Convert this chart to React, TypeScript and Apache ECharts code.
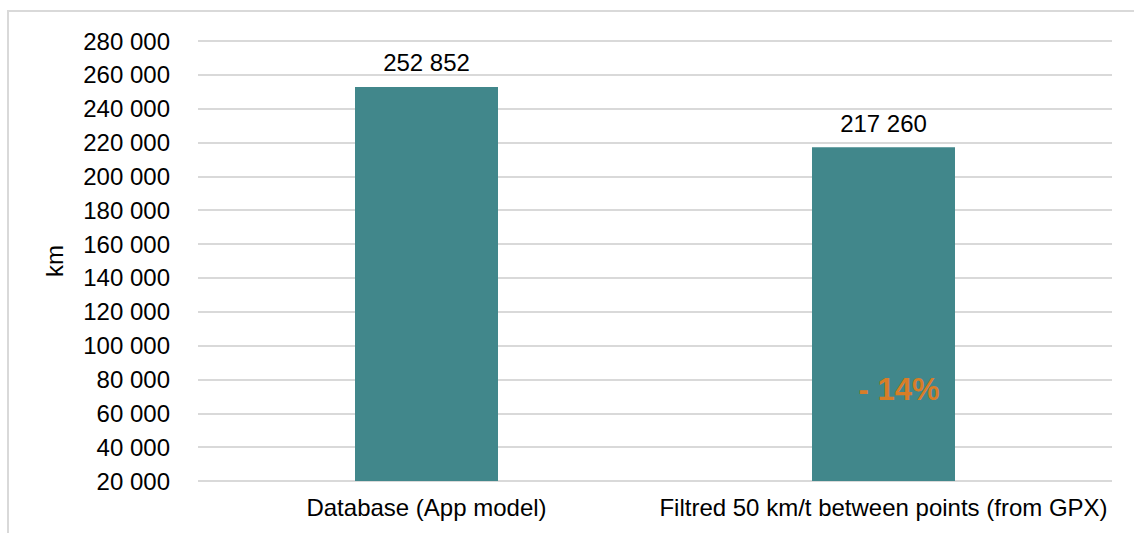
import React, { useEffect, useRef } from "react";
import * as echarts from "echarts";

const categories = ["Database (App model)", "Filtred 50 km/t between points (from GPX)"];
const distanceKm = [252852, 217260];
const yMin = 20000;
const yMax = 280000;
const yStep = 20000;

const fmt = (v: number) => String(Math.round(v)).replace(/\B(?=(\d{3})+(?!\d))/g, " ");

const change = (distanceKm[1] - distanceKm[0]) / distanceKm[0];
const changeText = `${change < 0 ? "- " : "+ "}${Math.round(Math.abs(change) * 100)}%`;

const FONT = "'Liberation Sans', Arial, sans-serif";

export default function App() {
  const ref = useRef<HTMLDivElement>(null);

  useEffect(() => {
    if (!ref.current) return;
    const chart = echarts.init(ref.current, undefined, { renderer: "svg" });
    chart.setOption({
      animation: false,
      backgroundColor: "#ffffff",
      textStyle: { fontFamily: FONT },
      grid: { left: 198, right: 22, top: 41, bottom: 52 },
      xAxis: {
        type: "category",
        data: categories,
        axisTick: { show: false },
        axisLine: { show: false },
        axisLabel: { interval: 0, fontSize: 24, color: "#000", margin: 14, fontFamily: FONT },
      },
      yAxis: {
        type: "value",
        min: yMin,
        max: yMax,
        interval: yStep,
        name: "km",
        nameLocation: "middle",
        nameRotate: 90,
        nameGap: 132,
        nameTextStyle: { fontSize: 24, color: "#000", fontFamily: FONT },
        axisLine: { show: false },
        axisTick: { show: false },
        axisLabel: { fontSize: 24, color: "#000", margin: 28, fontFamily: FONT, formatter: (v: number) => fmt(v) },
        splitLine: { lineStyle: { color: "#D9D9D9", width: 2 } },
      },
      series: [
        {
          type: "bar",
          data: distanceKm,
          barWidth: 143,
          itemStyle: { color: "#41878B" },
          label: {
            show: true,
            position: "top",
            distance: 12,
            fontSize: 24,
            color: "#000",
            fontFamily: FONT,
            formatter: (p: any) => fmt(p.value),
          },
        },
      ],
      graphic: [
        {
          type: "rect",
          silent: true,
          z: 0,
          shape: { x: 8, y: 11, width: 1200, height: 600 },
          style: { fill: "none", stroke: "#D9D9D9", lineWidth: 2 },
        },
        {
          type: "text",
          z: 100,
          x: 899,
          y: 389,
          style: {
            text: changeText,
            fill: "#D87D27",
            fontSize: 31,
            fontWeight: "bold",
            fontFamily: FONT,
            align: "center",
            verticalAlign: "middle",
          },
        },
      ],
    });
    return () => chart.dispose();
  }, []);

  return (
    <div
      ref={ref}
      style={{ position: "fixed", left: 0, top: 0, width: 1134, height: 533 }}
    />
  );
}
